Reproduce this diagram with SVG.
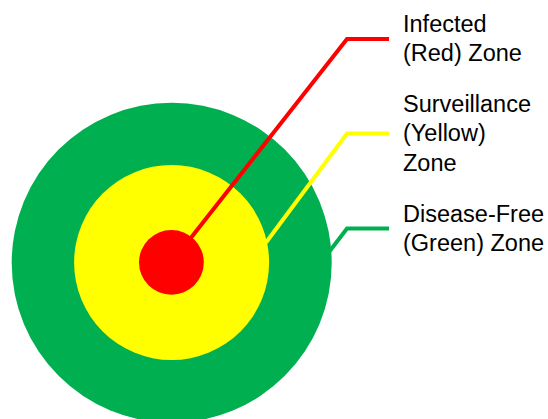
<svg xmlns="http://www.w3.org/2000/svg" width="548" height="419" viewBox="0 0 548 419">
<style>
.lbl{font-family:"Liberation Sans",Arial,sans-serif;font-size:23.5px;fill:#000}
.c{fill:none;stroke-width:4;stroke-linejoin:miter}
</style>
<rect width="548" height="419" fill="#fff"/>
<g id="green-zone"><circle cx="171.7" cy="262.7" r="160" fill="#00B050"/></g>
<g id="yellow-zone"><circle cx="171.6" cy="262.5" r="97.5" fill="#FFFF00"/></g>
<g id="connectors">
<polyline class="c" stroke="#FF0000" points="190,239 347,39 389,39"/>
<polyline class="c" stroke="#FFFF00" points="266,242.5 347,133.5 389,133.5"/>
<polyline class="c" stroke="#00B050" points="326,256 347,228.5 389,228.5"/>
</g>
<g id="red-zone"><circle cx="171.4" cy="262.4" r="32.4" fill="#FF0000"/></g>
<g id="label-red">
<text class="lbl" x="403" y="31.5">Infected</text>
<text class="lbl" x="403" y="60.5">(Red) Zone</text>
</g>
<g id="label-yellow">
<text class="lbl" x="403" y="111.5">Surveillance</text>
<text class="lbl" x="403" y="141">(Yellow)</text>
<text class="lbl" x="403" y="170.5">Zone</text>
</g>
<g id="label-green">
<text class="lbl" x="403" y="221.5">Disease-Free</text>
<text class="lbl" x="403" y="250.5">(Green) Zone</text>
</g>
</svg>
